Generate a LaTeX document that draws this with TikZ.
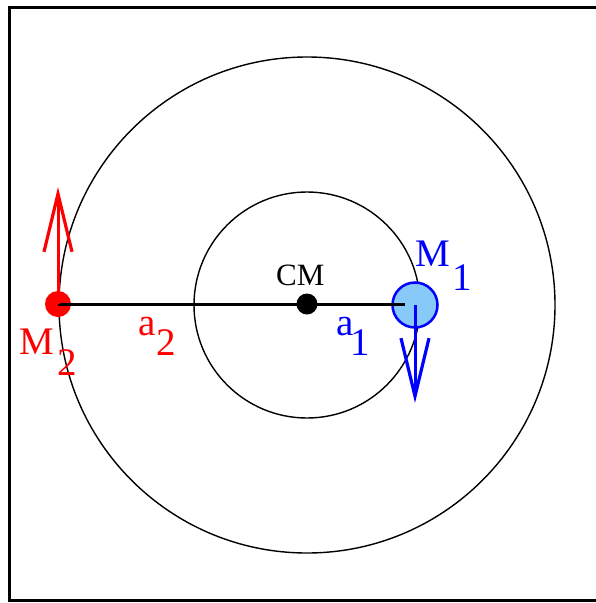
\documentclass[tikz,border=0pt]{standalone}
\usepackage{fontspec}
\setmainfont{Liberation Serif}
\usetikzlibrary{arrows.meta}
\begin{document}
\begin{tikzpicture}[x=1pt, y=-1pt, line cap=butt,
    lbl/.style={inner sep=0pt, anchor=base west, font=\fontsize{39}{42}\selectfont},
    vel/.style={line width=3pt, -{Straight Barb[length=58pt, width=28pt, line width=3.2pt]}}]
    \useasboundingbox (0,0) rectangle (595,603);
    \draw[line width=3pt] (9,7) rectangle (640,600);

    % orbits
    \draw[line width=1.4pt] (307,305) circle[radius=248];
    \draw[line width=1.4pt] (307,305) circle[radius=113];

    \coordinate (A1) at (405,304);
    \coordinate (V2) at (58,187);
    \coordinate (V1) at (415,403);

    \node[circle, fill=red, inner sep=0pt, minimum size=26pt] (M2) at (58,304) {};
    \node[circle, fill=black, inner sep=0pt, minimum size=21pt] (CM) at (307,304) {};
    \node[circle, fill={rgb,255:red,135;green,202;blue,250}, draw=blue, line width=2.5pt,
          inner sep=0pt, minimum size=45pt] (M1) at (415,305) {};

    \draw[line width=3pt] (M2.center) -- (A1);
    \draw[vel, red] (M2.center) -- (V2);
    \draw[vel, blue] (M1.center) -- (V1);

    \node[lbl, font=\fontsize{31}{34}\selectfont] (CMl) at (276,285) {CM};
    \node[lbl, blue] (M1l) at (415,266) {M\hspace{3pt}\raisebox{-24pt}{1}};
    \node[lbl, red] (M2l) at (19,354) {M\hspace{4pt}\raisebox{-21pt}{2}};
    \node[lbl, blue] (a1l) at (336,335) {a\hspace{-3pt}\raisebox{-20pt}{1}};
    \node[lbl, red] (a2l) at (138,335) {a\hspace{1pt}\raisebox{-20pt}{2}};
\end{tikzpicture}
\end{document}
